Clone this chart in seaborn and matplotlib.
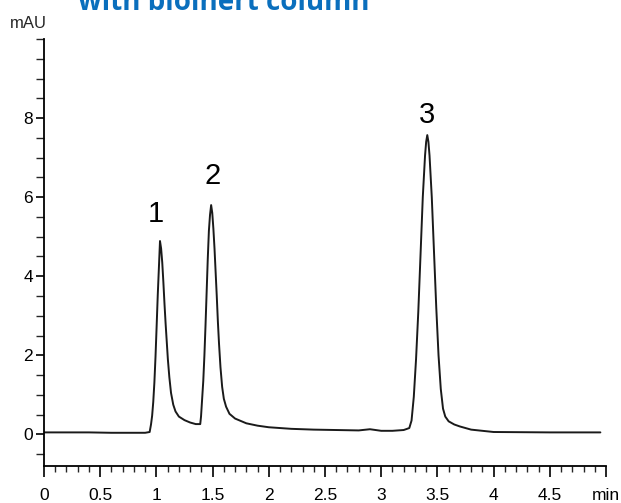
import matplotlib
matplotlib.use("Agg")
import matplotlib.pyplot as plt
import seaborn as sns
import pandas as pd
from matplotlib.ticker import MultipleLocator, FixedLocator

# --- data (time in min, absorbance in mAU) ---
time_min = [0.00, 0.20, 0.40, 0.60, 0.80, 0.90, 0.94, 0.952, 0.962, 0.972, 0.982,
            0.992, 1.002, 1.012, 1.022, 1.032, 1.042, 1.052, 1.062, 1.072, 1.082,
            1.092, 1.102, 1.115, 1.13, 1.15, 1.17, 1.20, 1.25, 1.30, 1.35, 1.39,
            1.397, 1.407, 1.417, 1.427, 1.437, 1.447, 1.457, 1.467, 1.477, 1.487,
            1.497, 1.507, 1.517, 1.527, 1.537, 1.547, 1.557, 1.57, 1.585, 1.60,
            1.62, 1.65, 1.70, 1.80, 1.90, 2.00, 2.20, 2.40, 2.60, 2.80, 2.90,
            3.00, 3.10, 3.20, 3.25, 3.27, 3.29, 3.31, 3.33, 3.35, 3.37, 3.39,
            3.40, 3.41, 3.42, 3.43, 3.45, 3.47, 3.49, 3.51, 3.53, 3.55, 3.57,
            3.60, 3.65, 3.70, 3.80, 4.00, 4.50, 4.95]
absorbance_mau = [0.05, 0.05, 0.05, 0.04, 0.04, 0.04, 0.06, 0.25, 0.47, 0.82, 1.31,
                  1.96, 2.73, 3.52, 4.20, 4.89, 4.70, 4.35, 3.85, 3.30, 2.80,
                  2.35, 1.90, 1.45, 1.05, 0.75, 0.58, 0.45, 0.36, 0.30, 0.26, 0.26,
                  0.45, 0.90, 1.35, 1.99, 2.76, 3.60, 4.44, 5.15, 5.55, 5.80,
                  5.60, 5.20, 4.70, 4.10, 3.50, 2.85, 2.30, 1.70, 1.20, 0.90,
                  0.70, 0.52, 0.40, 0.28, 0.22, 0.18, 0.14, 0.12, 0.11, 0.10, 0.13,
                  0.09, 0.09, 0.11, 0.16, 0.35, 0.95, 1.90, 3.10, 4.55, 6.00, 7.05,
                  7.40, 7.57, 7.40, 7.05, 6.00, 4.60, 3.20, 2.00, 1.15, 0.65, 0.45,
                  0.33, 0.25, 0.20, 0.12, 0.06, 0.05, 0.05]

peak_labels = ["1", "2", "3"]
peak_times = [1.032, 1.487, 3.41]
peak_heights = [4.89, 5.80, 7.57]

x_tick_values = [0, 0.5, 1, 1.5, 2, 2.5, 3, 3.5, 4, 4.5, 5]
x_tick_labels = ["0", "0.5", "1", "1.5", "2", "2.5", "3", "3.5", "4", "4.5", "min"]
y_tick_values = [0, 2, 4, 6, 8]

title_text = "with bioinert column"
y_unit = "mAU"

# label offsets from the peak apex, in pixels (layout only)
label_offsets = [(-4, 19), (1, 21), (0, 12)]

df = pd.DataFrame({"time": time_min, "mAU": absorbance_mau})

sns.set_style("ticks")
plt.rcParams["font.family"] = ["Liberation Sans", "DejaVu Sans"]

fig = plt.figure(figsize=(6.21, 5.03), dpi=100)
ax = fig.add_axes([44 / 621, 1 - 466 / 503, (606 - 44) / 621, (466 - 39) / 503])

sns.lineplot(data=df, x="time", y="mAU", ax=ax, color="#1a1a1a", linewidth=1.4,
             estimator=None, sort=False)

ax.set_xlim(0, 5)
ax.set_ylim(-0.8, 10.0)
ax.set_xlabel("")
ax.set_ylabel("")

ax.xaxis.set_major_locator(FixedLocator(x_tick_values))
ax.set_xticklabels(x_tick_labels)
ax.xaxis.set_minor_locator(MultipleLocator(0.1))
ax.yaxis.set_major_locator(FixedLocator(y_tick_values))
ax.yaxis.set_minor_locator(MultipleLocator(0.5))

for s in ["top", "right"]:
    ax.spines[s].set_visible(False)
for s in ["left", "bottom"]:
    ax.spines[s].set_linewidth(1.3)
    ax.spines[s].set_color("black")

ax.tick_params(axis="x", which="major", length=8, width=1.2, labelsize=12.5, pad=8, colors="black")
ax.tick_params(axis="x", which="minor", length=4, width=1.0)
ax.tick_params(axis="y", which="major", length=6, width=1.2, labelsize=12.5, pad=2, colors="black")
ax.tick_params(axis="y", which="minor", length=6, width=1.0)

for lab, t, h, off in zip(peak_labels, peak_times, peak_heights, label_offsets):
    ax.annotate(lab, (t, h), xytext=off, textcoords="offset pixels",
                ha="center", va="baseline", fontsize=21, color="black")

fig.text(10 / 621, 1 - 23 / 503, y_unit, fontsize=12, ha="left", va="center")
fig.text(78 / 621, 1 - 3 / 503, title_text, fontsize=20, fontweight="bold",
         color="#0a6fbd", ha="left", va="center", family=["Open Sans", "DejaVu Sans"])

fig.savefig("out.png", dpi=100)
